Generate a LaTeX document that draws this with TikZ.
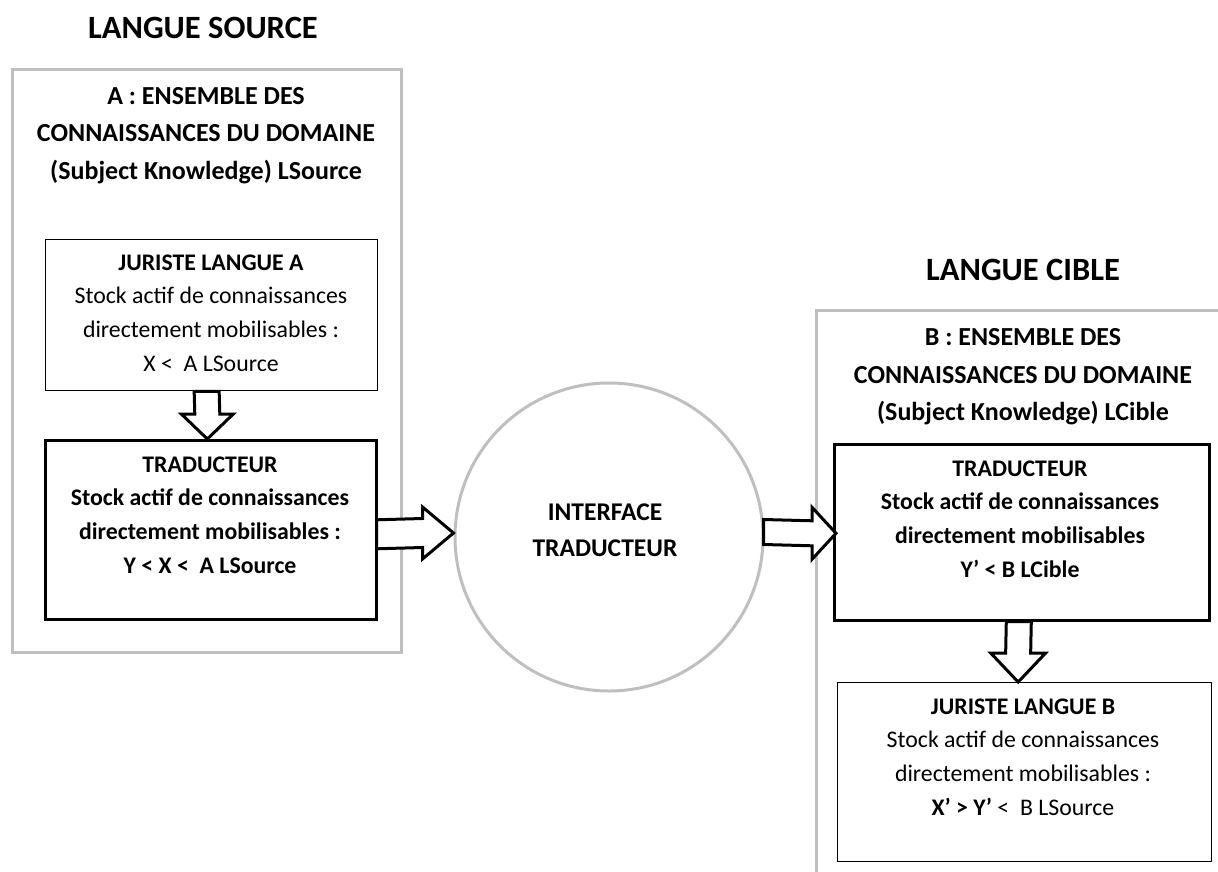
\documentclass[tikz,border=0pt]{standalone}
\usepackage{fontspec}
\setmainfont{Carlito}
\usetikzlibrary{calc}
\begin{document}
\begin{tikzpicture}[x=1pt,y=-1pt,
  outerbox/.style={draw=black!25,line width=3pt},
  thinbox/.style={draw=black,line width=1.3pt,anchor=north west,inner sep=0pt},
  thickbox/.style={draw=black,line width=2.6pt,anchor=north west,inner sep=0pt},
  barrow/.style={draw=black,fill=white,line width=3pt,line join=miter},
  title/.style={font=\fontsize{32.5}{36}\selectfont\bfseries},
  header/.style={font=\fontsize{26}{37.5}\selectfont\bfseries,align=center},
  body/.style={font=\fontsize{23.8}{33.7}\selectfont,align=center},
  bodyb/.style={font=\fontsize{23.8}{33.7}\selectfont\bfseries,align=center}]
\useasboundingbox (0,0) rectangle (1218,872);
\fill[white] (0,0) rectangle (1218,872);
\begin{scope}
\clip (0,0) rectangle (1218,872);
% outer boxes
\draw[outerbox] (12,70) rectangle (401,652);
\draw[outerbox] (816,310) rectangle (1240,900);
\end{scope}
% titles
\node[title] (tsrc) at (203,28) {LANGUE SOURCE};
\node[title] (tcib) at (1023,270) {LANGUE CIBLE};
% headers
\node[header] (hA) at (206,135.5) {A : ENSEMBLE DES\\CONNAISSANCES DU DOMAINE\\(Subject Knowledge) LSource};
\node[header] (hB) at (1023,377) {B : ENSEMBLE DES\\CONNAISSANCES DU DOMAINE\\(Subject Knowledge) LCible};
% boxes
\node[thinbox,minimum width=332pt,minimum height=151pt] (ja) at (45,239) {};
\node[thickbox,minimum width=331pt,minimum height=179pt] (tl) at (44,439) {};
\node[thickbox,minimum width=375pt,minimum height=176pt] (tr) at (833,443) {};
\node[thinbox,minimum width=374pt,minimum height=179pt] (jb) at (837,682) {};
\node[draw=black!25,line width=3pt,circle,minimum size=308pt,inner sep=0pt] (ci) at (609,537) {};
% texts
\node[body] (jatxt) at (211,313) {\textbf{JURISTE LANGUE A}\\Stock actif de connaissances\\directement mobilisables :\\X <\ \ A LSource};
\node[bodyb] (tltxt) at (210,515) {TRADUCTEUR\\Stock actif de connaissances\\directement mobilisables :\\Y < X <\ \ A LSource};
\node[bodyb,font=\fontsize{25.5}{36}\selectfont\bfseries] (citxt) at (605,530) {INTERFACE\\TRADUCTEUR};
\node[bodyb] (trtxt) at (1020,519) {TRADUCTEUR\\Stock actif de connaissances\\directement mobilisables\\Y’ < B LCible};
\node[body] (jbtxt) at (1023,757) {\textbf{JURISTE LANGUE B}\\Stock actif de connaissances\\directement mobilisables :\\\textbf{X’ > Y’} <\ \ B LSource};
% arrow anchor points
\coordinate (a1s) at ($(ja.south)+(-5,0)$);
\coordinate (a1t) at ($(tl.north)+(-3.5,0)$);
\coordinate (a2s) at ($(tl.east)+(-1,4.5)$);
\coordinate (a2t) at ($(ci.west)+(0,-4)$);
\coordinate (a3s) at ($(ci.east)+(-1,-5)$);
\coordinate (a3t) at ($(tr.west)+(3,1)$);
\coordinate (a4s) at ($(tr.south)+(-3,0)$);
\coordinate (a4t) at ($(jb.north)+(-6.5,0)$);
% block arrows
\draw[barrow] ($(a1s)+(-12.5,0)$) -- ($(a1t)+(-12.5,-25)$) -- ($(a1t)+(-26,-25)$) -- (a1t)
  -- ($(a1t)+(26,-25)$) -- ($(a1t)+(12.5,-25)$) -- ($(a1s)+(12.5,0)$) -- cycle;
\draw[barrow] ($(a2s)+(0,-14.5)$) -- ($(a2t)+(-31,-14.5)$) -- ($(a2t)+(-31,-26)$) -- (a2t)
  -- ($(a2t)+(-31,26)$) -- ($(a2t)+(-31,14.5)$) -- ($(a2s)+(0,14.5)$) -- cycle;
\draw[barrow] ($(a3s)+(0,-12.5)$) -- ($(a3t)+(-24,-12.5)$) -- ($(a3t)+(-24,-26)$) -- (a3t)
  -- ($(a3t)+(-24,26)$) -- ($(a3t)+(-24,12.5)$) -- ($(a3s)+(0,12.5)$) -- cycle;
\draw[barrow] ($(a4s)+(-12.5,0)$) -- ($(a4t)+(-12.5,-29)$) -- ($(a4t)+(-27.5,-29)$) -- (a4t)
  -- ($(a4t)+(27.5,-29)$) -- ($(a4t)+(12.5,-29)$) -- ($(a4s)+(12.5,0)$) -- cycle;
\end{tikzpicture}
\end{document}
